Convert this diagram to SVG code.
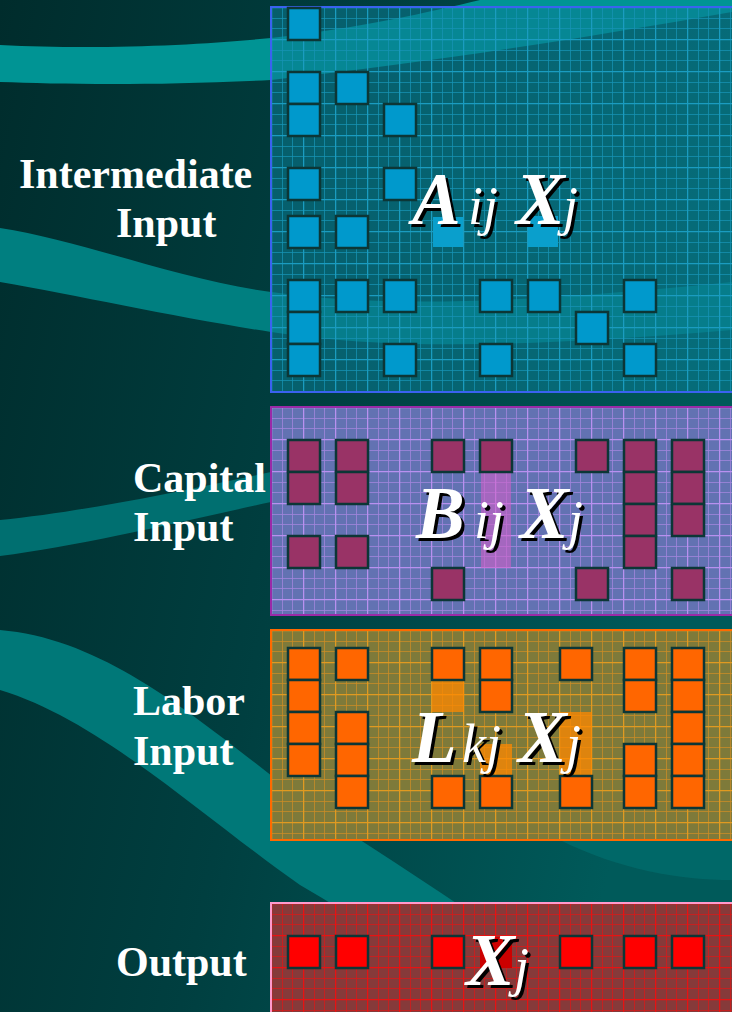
<svg xmlns="http://www.w3.org/2000/svg" width="732" height="1012" viewBox="0 0 732 1012">
<defs>
<linearGradient id="bg" x1="0" y1="0" x2="1" y2="0.3">
<stop offset="0" stop-color="#002c2c"/>
<stop offset="0.5" stop-color="#003f40"/>
<stop offset="1" stop-color="#005a5a"/>
</linearGradient>
<pattern id="gBlue" patternUnits="userSpaceOnUse" x="271" y="7" width="32" height="32">
<rect width="32" height="32" fill="#0a7c93" fill-opacity="0.55"/>
<path d="M11.5 0V32M21.5 0V32M0 11.5H32M0 21.5H32" stroke="#1592b4" stroke-width="1" stroke-opacity="0.75"/>
<path d="M0.5 0V32M0 0.5H32" stroke="#1a9cc0" stroke-width="1.5"/>
</pattern>
<pattern id="gPurple" patternUnits="userSpaceOnUse" x="271" y="407" width="32" height="32">
<rect width="32" height="32" fill="#6272b2"/>
<path d="M11.5 0V32M21.5 0V32M0 11.5H32M0 21.5H32" stroke="#a084dc" stroke-width="1" stroke-opacity="0.8"/>
<path d="M0.5 0V32M0 0.5H32" stroke="#b890f0" stroke-width="1.5"/>
</pattern>
<pattern id="gOrange" patternUnits="userSpaceOnUse" x="271" y="630" width="32" height="32">
<rect width="32" height="32" fill="#7e7a3a"/>
<path d="M11.5 0V32M21.5 0V32M0 11.5H32M0 21.5H32" stroke="#cc8c24" stroke-width="1" stroke-opacity="0.75"/>
<path d="M0.5 0V32M0 0.5H32" stroke="#e09a20" stroke-width="1.5"/>
</pattern>
<pattern id="gRed" patternUnits="userSpaceOnUse" x="271" y="903" width="32" height="32">
<rect width="32" height="32" fill="#863a3a"/>
<path d="M11.5 0V32M21.5 0V32M0 11.5H32M0 21.5H32" stroke="#d81818" stroke-width="1" stroke-opacity="0.75"/>
<path d="M0.5 0V32M0 0.5H32" stroke="#e81212" stroke-width="1.5"/>
</pattern>
<style>
.lbl{font-family:"Liberation Serif","Times New Roman",serif;font-weight:bold;font-size:42px;fill:#ffffff}
.big{font-family:"Liberation Serif","Times New Roman",serif;font-style:italic;font-weight:bold;font-size:73px}
.sub{font-family:"Liberation Serif","Times New Roman",serif;font-style:italic;font-size:54px}
.sh{fill:#000000}
.wt{fill:#ffffff}
.sq{stroke:#0c3636;stroke-width:2.5}
.b{fill:#0099cc}
.p{fill:#993366}
.o{fill:#ff6600}
.r{fill:#ff0000}
</style>
</defs>
<g id="background">
<rect width="732" height="1012" fill="url(#bg)"/>
<path d="M0,45 C100,50 200,45 271,38 C360,28 430,12 480,0 L732,0 L732,12 C600,35 450,60 271,80 C150,86 60,84 0,82 Z" fill="#009494"/>
<path d="M0,228 C80,240 180,280 271,292 C400,310 550,300 732,282 L732,330 C550,345 400,352 271,332 C180,318 80,296 0,282 Z" fill="#007f80"/>
<path d="M0,520 C80,512 180,492 271,472 L271,502 C180,522 80,546 0,556 Z" fill="#006f70"/>
<path d="M0,630 C120,640 220,740 330,820 C420,880 520,940 600,1012 L480,1012 C420,960 360,920 300,885 C200,815 100,720 0,690 Z" fill="#007878"/>
<path d="M560,840 C620,870 680,880 732,880 L732,840 Z" fill="#006868"/>
</g>
<g id="labels">
<text class="lbl" x="19" y="188">Intermediate</text>
<text class="lbl" x="116" y="237">Input</text>
<text class="lbl" x="133" y="492">Capital</text>
<text class="lbl" x="133" y="541">Input</text>
<text class="lbl" x="133" y="715">Labor</text>
<text class="lbl" x="133" y="765">Input</text>
<text class="lbl" x="116" y="976">Output</text>
</g>
<g id="intermediate-panel">
<rect x="271" y="7" width="470" height="385" fill="url(#gBlue)" stroke="#3a62f0" stroke-width="2"/>
<rect x="433" y="217" width="30" height="30" fill="#0a9fcc"/>
<rect x="528" y="216" width="30" height="31" fill="#0a9fcc"/>
<g class="sq b">
<rect x="288" y="8" width="32" height="32"/>
<rect x="288" y="72" width="32" height="32"/>
<rect x="336" y="72" width="32" height="32"/>
<rect x="288" y="104" width="32" height="32"/>
<rect x="384" y="104" width="32" height="32"/>
<rect x="288" y="168" width="32" height="32"/>
<rect x="384" y="168" width="32" height="32"/>
<rect x="288" y="216" width="32" height="32"/>
<rect x="336" y="216" width="32" height="32"/>
<rect x="288" y="280" width="32" height="32"/>
<rect x="336" y="280" width="32" height="32"/>
<rect x="384" y="280" width="32" height="32"/>
<rect x="480" y="280" width="32" height="32"/>
<rect x="528" y="280" width="32" height="32"/>
<rect x="624" y="280" width="32" height="32"/>
<rect x="288" y="312" width="32" height="32"/>
<rect x="576" y="312" width="32" height="32"/>
<rect x="288" y="344" width="32" height="32"/>
<rect x="384" y="344" width="32" height="32"/>
<rect x="480" y="344" width="32" height="32"/>
<rect x="624" y="344" width="32" height="32"/>
</g>
<g class="sh" transform="translate(3,3)">
<text class="big" x="412" y="224">A</text><text class="sub" x="468" y="224">ij</text>
<text class="big" x="516" y="224">X</text><text class="sub" x="563" y="224">j</text>
</g>
<g class="wt">
<text class="big" x="412" y="224">A</text><text class="sub" x="468" y="224">ij</text>
<text class="big" x="516" y="224">X</text><text class="sub" x="563" y="224">j</text>
</g>
</g>
<g id="capital-panel">
<rect x="271" y="407" width="470" height="208" fill="url(#gPurple)" stroke="#9a2aa8" stroke-width="2"/>
<rect x="481" y="472" width="30" height="96" fill="#d060c8" fill-opacity="0.6"/>
<g class="sq p">
<rect x="288" y="440" width="32" height="32"/>
<rect x="288" y="472" width="32" height="32"/>
<rect x="336" y="440" width="32" height="32"/>
<rect x="336" y="472" width="32" height="32"/>
<rect x="432" y="440" width="32" height="32"/>
<rect x="480" y="440" width="32" height="32"/>
<rect x="576" y="440" width="32" height="32"/>
<rect x="624" y="440" width="32" height="32"/>
<rect x="624" y="472" width="32" height="32"/>
<rect x="624" y="504" width="32" height="32"/>
<rect x="624" y="536" width="32" height="32"/>
<rect x="672" y="440" width="32" height="32"/>
<rect x="672" y="472" width="32" height="32"/>
<rect x="672" y="504" width="32" height="32"/>
<rect x="288" y="536" width="32" height="32"/>
<rect x="336" y="536" width="32" height="32"/>
<rect x="432" y="568" width="32" height="32"/>
<rect x="576" y="568" width="32" height="32"/>
<rect x="672" y="568" width="32" height="32"/>
</g>
<g class="sh" transform="translate(3,3)">
<text class="big" x="416" y="538">B</text><text class="sub" x="474" y="538">ij</text>
<text class="big" x="520" y="538">X</text><text class="sub" x="568" y="538">j</text>
</g>
<g class="wt">
<text class="big" x="416" y="538">B</text><text class="sub" x="474" y="538">ij</text>
<text class="big" x="520" y="538">X</text><text class="sub" x="568" y="538">j</text>
</g>
</g>
<g id="labor-panel">
<rect x="271" y="630" width="470" height="210" fill="url(#gOrange)" stroke="#ff6a00" stroke-width="2"/>
<g fill="#ff8800" fill-opacity="0.75">
<rect x="432" y="680" width="32" height="32"/>
<rect x="480" y="744" width="32" height="32"/>
<rect x="560" y="712" width="32" height="64"/>
</g>
<g class="sq o">
<rect x="288" y="648" width="32" height="32"/>
<rect x="288" y="680" width="32" height="32"/>
<rect x="288" y="712" width="32" height="32"/>
<rect x="288" y="744" width="32" height="32"/>
<rect x="336" y="648" width="32" height="32"/>
<rect x="336" y="712" width="32" height="32"/>
<rect x="336" y="744" width="32" height="32"/>
<rect x="336" y="776" width="32" height="32"/>
<rect x="432" y="648" width="32" height="32"/>
<rect x="432" y="776" width="32" height="32"/>
<rect x="480" y="648" width="32" height="32"/>
<rect x="480" y="680" width="32" height="32"/>
<rect x="480" y="776" width="32" height="32"/>
<rect x="560" y="648" width="32" height="32"/>
<rect x="560" y="776" width="32" height="32"/>
<rect x="624" y="648" width="32" height="32"/>
<rect x="624" y="680" width="32" height="32"/>
<rect x="624" y="744" width="32" height="32"/>
<rect x="624" y="776" width="32" height="32"/>
<rect x="672" y="648" width="32" height="32"/>
<rect x="672" y="680" width="32" height="32"/>
<rect x="672" y="712" width="32" height="32"/>
<rect x="672" y="744" width="32" height="32"/>
<rect x="672" y="776" width="32" height="32"/>
</g>
<g class="sh" transform="translate(3,3)">
<text class="big" x="412" y="762">L</text><text class="sub" x="462" y="762">kj</text>
<text class="big" x="518" y="762">X</text><text class="sub" x="566" y="762">j</text>
</g>
<g class="wt">
<text class="big" x="412" y="762">L</text><text class="sub" x="462" y="762">kj</text>
<text class="big" x="518" y="762">X</text><text class="sub" x="566" y="762">j</text>
</g>
</g>
<g id="output-panel">
<rect x="271" y="903" width="470" height="120" fill="url(#gRed)" stroke="#ff99cc" stroke-width="2"/>
<rect x="480" y="937" width="32" height="31" fill="#cc0000"/>
<g class="sq r">
<rect x="288" y="936" width="32" height="32"/>
<rect x="336" y="936" width="32" height="32"/>
<rect x="432" y="936" width="32" height="32"/>
<rect x="560" y="936" width="32" height="32"/>
<rect x="624" y="936" width="32" height="32"/>
<rect x="672" y="936" width="32" height="32"/>
</g>
<g class="sh" transform="translate(3,3)">
<text class="big" x="466" y="985">X</text><text class="sub" x="514" y="985">j</text>
</g>
<g class="wt">
<text class="big" x="466" y="985">X</text><text class="sub" x="514" y="985">j</text>
</g>
</g>
<g id="connectors"/>
</svg>
